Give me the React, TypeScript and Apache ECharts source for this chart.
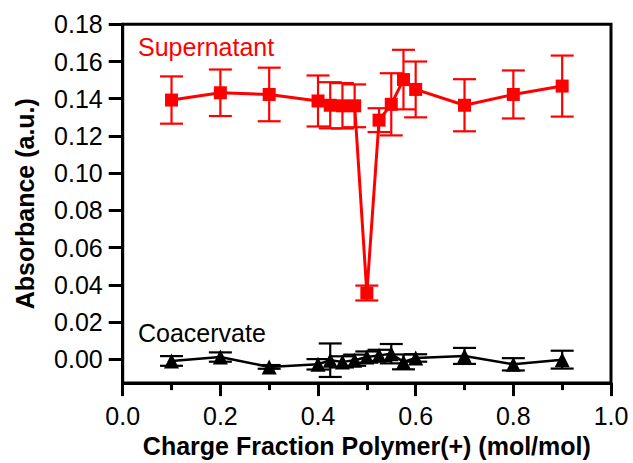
import React, { useEffect, useRef } from "react";
import * as echarts from "echarts";

const xVals = [0.1, 0.2, 0.3, 0.4, 0.425, 0.45, 0.475, 0.5, 0.525, 0.55, 0.575, 0.6, 0.7, 0.8, 0.9];
const superY = [0.1393, 0.1432, 0.1423, 0.1388, 0.1365, 0.1362, 0.1362, 0.0356, 0.1285, 0.137, 0.1503, 0.145, 0.1365, 0.1423, 0.1468];
const superErr = [0.0127, 0.0125, 0.0144, 0.0137, 0.0124, 0.0122, 0.0115, 0.004, 0.0064, 0.0167, 0.016, 0.015, 0.014, 0.0129, 0.0164];
const coacY = [-0.0009, 0.0012, -0.0041, -0.0027, -0.0005, -0.0014, -0.0005, 0.0012, 0.0021, 0.003, -0.0014, 0.0007, 0.0018, -0.0027, -0.0002];
const coacErr = [0.0026, 0.0025, 0.001, 0.0028, 0.009, 0.003, 0.003, 0.003, 0.003, 0.0052, 0.004, 0.002, 0.0043, 0.0033, 0.0048];
const yTicks = [0, 0.02, 0.04, 0.06, 0.08, 0.1, 0.12, 0.14, 0.16, 0.18];

const FONT = "'Liberation Sans', Arial, sans-serif";

function errorSeries(ys: number[], errs: number[], color: string, lw: number) {
  return {
    type: "custom",
    clip: false,
    z: 2,
    data: xVals.map((x, i) => [x, ys[i], errs[i]]),
    encode: { x: 0, y: 1 },
    renderItem: (params: any, api: any) => {
      const x = api.value(0);
      const y = api.value(1);
      const e = api.value(2);
      const top = api.coord([x, y + e]);
      const bot = api.coord([x, y - e]);
      const hw = 11.5;
      const style = { stroke: color, lineWidth: lw };
      return {
        type: "group",
        children: [
          { type: "line", shape: { x1: top[0], y1: top[1], x2: bot[0], y2: bot[1] }, style },
          { type: "line", shape: { x1: top[0] - hw, y1: top[1], x2: top[0] + hw, y2: top[1] }, style },
          { type: "line", shape: { x1: bot[0] - hw, y1: bot[1], x2: bot[0] + hw, y2: bot[1] }, style },
        ],
      };
    },
  };
}

export default function App() {
  const ref = useRef<HTMLDivElement>(null);
  useEffect(() => {
    document.body.style.margin = "0";
    const chart = echarts.init(ref.current!, null, { renderer: "svg" });
    chart.setOption({
      animation: false,
      backgroundColor: "#fff",
      grid: {
        left: 122.7,
        right: 22,
        top: 24.3,
        bottom: 77,
        show: true,
        borderColor: "#000",
        borderWidth: 3,
        backgroundColor: "transparent",
      },
      xAxis: {
        type: "value",
        min: 0,
        max: 1,
        interval: 0.2,
        name: "Charge Fraction Polymer(+) (mol/mol)",
        nameLocation: "middle",
        nameGap: 42,
        nameTextStyle: { fontFamily: FONT, fontSize: 25, fontWeight: "bold", color: "#000" },
        axisLine: { onZero: false, lineStyle: { color: "#000", width: 3 } },
        axisTick: { length: 13, lineStyle: { color: "#000", width: 3 } },
        minorTick: { show: true, splitNumber: 2, length: 7, lineStyle: { color: "#000", width: 3 } },
        axisLabel: {
          margin: 20,
          fontFamily: FONT,
          fontSize: 25,
          color: "#000",
          formatter: (v: number) => v.toFixed(1),
        },
        splitLine: { show: false },
      },
      yAxis: {
        type: "value",
        min: -0.0128,
        max: 0.18,
        name: "Absorbance (a.u.)",
        nameLocation: "middle",
        nameRotate: 90,
        nameGap: 85,
        nameTextStyle: { fontFamily: FONT, fontSize: 25, fontWeight: "bold", color: "#000" },
        axisLine: { lineStyle: { color: "#000", width: 3 } },
        axisTick: { length: 14, customValues: yTicks, lineStyle: { color: "#000", width: 3 } },
        axisLabel: {
          margin: 20,
          fontFamily: FONT,
          fontSize: 25,
          color: "#000",
          customValues: yTicks,
          formatter: (v: number) => v.toFixed(2),
        },
        splitLine: { show: false },
      },
      graphic: [
        {
          type: "text",
          left: 138,
          top: 34,
          style: { text: "Supernatant", fill: "#ff0000", font: `25px ${FONT}` },
        },
        {
          type: "text",
          left: 138,
          top: 320,
          style: { text: "Coacervate", fill: "#000", font: `25px ${FONT}` },
        },
      ],
      series: [
        errorSeries(superY, superErr, "#ff0000", 2.2),
        errorSeries(coacY, coacErr, "#000", 2.2),
        {
          type: "line",
          z: 3,
          data: xVals.map((x, i) => [x, superY[i]]),
          symbol: "rect",
          symbolSize: 13,
          lineStyle: { color: "#ff0000", width: 3 },
          itemStyle: { color: "#ff0000" },
        },
        {
          type: "line",
          z: 3,
          data: xVals.map((x, i) => [x, coacY[i]]),
          symbol: "triangle",
          symbolSize: 15,
          lineStyle: { color: "#000", width: 2.5 },
          itemStyle: { color: "#000" },
        },
      ],
    });
    return () => chart.dispose();
  }, []);
  return <div ref={ref} style={{ width: 633, height: 463 }} />;
}
